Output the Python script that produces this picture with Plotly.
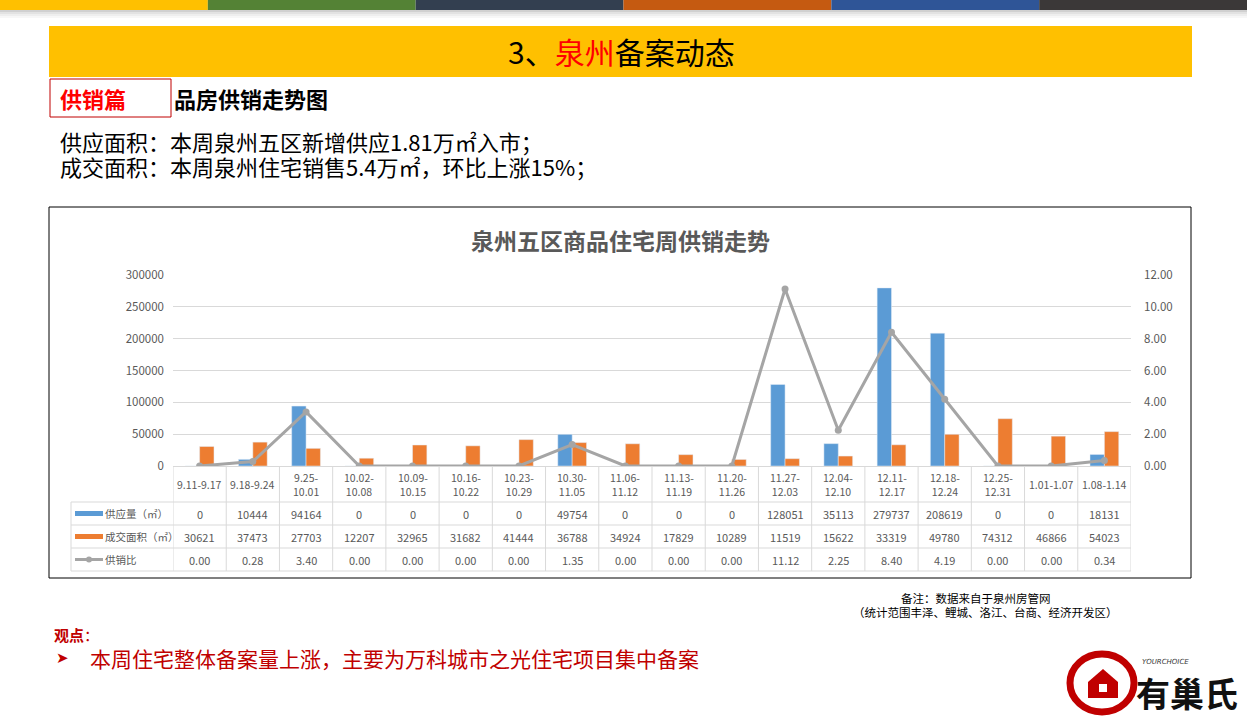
import plotly.graph_objects as go

# Weekly supply / sales data, Quanzhou five districts
weeks = ['9.11-9.17', '9.18-9.24', '9.25-10.01', '10.02-10.08', '10.09-10.15',
         '10.16-10.22', '10.23-10.29', '10.30-11.05', '11.06-11.12', '11.13-11.19',
         '11.20-11.26', '11.27-12.03', '12.04-12.10', '12.11-12.17', '12.18-12.24',
         '12.25-12.31', '1.01-1.07', '1.08-1.14']
week_labels = ['9.11-9.17', '9.18-9.24', '9.25-<br>10.01', '10.02-<br>10.08', '10.09-<br>10.15',
               '10.16-<br>10.22', '10.23-<br>10.29', '10.30-<br>11.05', '11.06-<br>11.12',
               '11.13-<br>11.19', '11.20-<br>11.26', '11.27-<br>12.03', '12.04-<br>12.10',
               '12.11-<br>12.17', '12.18-<br>12.24', '12.25-<br>12.31', '1.01-1.07', '1.08-1.14']
supply = [0, 10444, 94164, 0, 0, 0, 0, 49754, 0, 0, 0, 128051, 35113, 279737, 208619, 0, 0, 18131]
sales = [30621, 37473, 27703, 12207, 32965, 31682, 41444, 36788, 34924, 17829, 10289,
         11519, 15622, 33319, 49780, 74312, 46866, 54023]
ratio = [0.00, 0.28, 3.40, 0.00, 0.00, 0.00, 0.00, 1.35, 0.00, 0.00, 0.00,
         11.12, 2.25, 8.40, 4.19, 0.00, 0.00, 0.34]
series_names = ['供应量（㎡）', '成交面积（㎡）', '供销比']

W, H = 1247, 718
CJK = 'Noto Sans CJK SC'
BLUE, ORANGE, GRAY = '#5B9BD5', '#ED7D31', '#A5A5A5'
TXT = '#595959'
GRID = '#D9D9D9'


def fx(p):
    return p / W


def fy(p):
    return 1 - p / H


def label(x, y, text, size, color='#000000', family=CJK, xanchor='center', xref='paper'):
    # text placed by its pixel position on the page
    return dict(xref=xref, yref='paper', x=x if xref != 'paper' else fx(x), y=fy(y),
                xanchor=xanchor, yanchor='middle', showarrow=False, text=text,
                font=dict(family=family, size=size, color=color))


n = len(weeks)
X0, X1 = 173, 1131          # plot / table column span (px)
Y_TOP, Y_ZERO = 275, 466    # value axis span (px)

fig = go.Figure()
fig.add_trace(go.Bar(x=weeks, y=supply, name=series_names[0], marker_color=BLUE))
fig.add_trace(go.Bar(x=weeks, y=sales, name=series_names[1], marker_color=ORANGE))
fig.add_trace(go.Scatter(x=weeks, y=ratio, name=series_names[2], yaxis='y2',
                         mode='lines+markers', line=dict(color=GRAY, width=3),
                         marker=dict(color=GRAY, size=7)))

shapes = []
annotations = []

# top colour strip
strip = ['#FFC000', '#548235', '#333F50', '#C55A11', '#2F5597', '#3B3838']
seg = W / len(strip)
for i, c in enumerate(strip):
    shapes.append(dict(type='rect', xref='paper', yref='paper', x0=fx(i * seg), x1=fx((i + 1) * seg),
                       y0=fy(10), y1=fy(0), fillcolor=c, line_width=0, layer='below'))
for k, c in enumerate(['#D0D0D0', '#E2E2E2', '#EEEEEE', '#F7F7F7']):
    shapes.append(dict(type='rect', xref='paper', yref='paper', x0=0, x1=1,
                       y0=fy(12 + 2 * k), y1=fy(10 + 2 * k), fillcolor=c, line_width=0, layer='below'))

# yellow banner
shapes.append(dict(type='rect', xref='paper', yref='paper', x0=fx(49), x1=fx(1192),
                   y0=fy(77), y1=fy(26), fillcolor='#FFC000', line_width=0, layer='below'))
annotations.append(label(621, 51, "3、<span style='color:#FF0000'>泉州</span>备案动态", 30))

# section tag
shapes.append(dict(type='rect', xref='paper', yref='paper', x0=fx(50), x1=fx(171),
                   y0=fy(117), y1=fy(79), fillcolor='white', line=dict(color='#C00000', width=1)))
annotations.append(label(58, 98, '<b>供销篇</b>', 22, '#FF0000', xanchor='left'))
annotations.append(label(172, 98, '<b>品房供销走势图</b>', 22, xanchor='left'))

annotations.append(label(58, 141, '供应面积：本周泉州五区新增供应1.81万㎡入市；', 22, xanchor='left'))
annotations.append(label(58, 166, '成交面积：本周泉州住宅销售5.4万㎡，环比上涨15%；', 22, xanchor='left'))

# chart frame and title
shapes.append(dict(type='rect', xref='paper', yref='paper', x0=fx(49), x1=fx(1191),
                   y0=fy(578), y1=fy(207), line=dict(color='#000000', width=1)))
annotations.append(label(620, 240, '<b>泉州五区商品住宅周供销走势</b>', 23, TXT))

# data table under the axis
row_y = [466, 502, 525, 548, 571]
for y in row_y[1:]:
    shapes.append(dict(type='line', xref='paper', yref='paper', x0=fx(71), x1=fx(X1),
                       y0=fy(y), y1=fy(y), line=dict(color=GRID, width=1)))
shapes.append(dict(type='line', xref='paper', yref='paper', x0=fx(71), x1=fx(71),
                   y0=fy(502), y1=fy(571), line=dict(color=GRID, width=1)))
for i in range(n + 1):
    shapes.append(dict(type='line', xref='x', yref='paper', x0=i - 0.5, x1=i - 0.5,
                       y0=fy(466), y1=fy(571), line=dict(color=GRID, width=1)))

for i, lab in enumerate(week_labels):
    annotations.append(label(weeks[i], 484, lab, 10.5, TXT, xref='x'))
rows = [[str(v) for v in supply], [str(v) for v in sales], ['%.2f' % v for v in ratio]]
for r, vals in enumerate(rows):
    yc = (row_y[r + 1] + row_y[r + 2]) / 2
    for i, v in enumerate(vals):
        annotations.append(label(weeks[i], yc, v, 11, TXT, xref='x'))
    annotations.append(label(103, yc, series_names[r], 10.5, TXT, xanchor='left'))

# legend keys inside the table
for r, c in enumerate([BLUE, ORANGE]):
    yc = (row_y[r + 1] + row_y[r + 2]) / 2
    shapes.append(dict(type='rect', xref='paper', yref='paper', x0=fx(75), x1=fx(103),
                       y0=fy(yc + 2.5), y1=fy(yc - 2.5), fillcolor=c, line_width=0))
yc = (row_y[3] + row_y[4]) / 2
shapes.append(dict(type='line', xref='paper', yref='paper', x0=fx(75), x1=fx(103),
                   y0=fy(yc), y1=fy(yc), line=dict(color=GRAY, width=3)))
shapes.append(dict(type='circle', xref='paper', yref='paper', x0=fx(86), x1=fx(92),
                   y0=fy(yc + 3), y1=fy(yc - 3), fillcolor=GRAY, line_width=0))

# notes
annotations.append(label(976, 598, '备注：数据来自于泉州房管网', 11.5))
annotations.append(label(985, 612, '（统计范围丰泽、鲤城、洛江、台商、经济开发区）', 11.5))
annotations.append(label(52, 634, '<b>观点</b>：', 15, '#C00000', xanchor='left'))
annotations.append(label(54, 658, '➤', 15, '#C00000', family='DejaVu Sans', xanchor='left'))
annotations.append(label(88, 658, '本周住宅整体备案量上涨，主要为万科城市之光住宅项目集中备案', 21,
                         '#C00000', xanchor='left'))

# logo, bottom right
shapes.append(dict(type='circle', xref='paper', yref='paper', x0=fx(1070), x1=fx(1134),
                   y0=fy(712), y1=fy(654), line=dict(color='#C00000', width=7)))
shapes.append(dict(type='path', xref='paper', yref='paper',
                   path='M %f %f L %f %f L %f %f L %f %f L %f %f Z' % (
                       fx(1088), fy(698), fx(1088), fy(682), fx(1103), fy(669),
                       fx(1118), fy(682), fx(1118), fy(698)),
                   fillcolor='#C00000', line_width=0))
shapes.append(dict(type='rect', xref='paper', yref='paper', x0=fx(1099), x1=fx(1107),
                   y0=fy(692), y1=fy(684), fillcolor='white', line_width=0))
annotations.append(label(1140, 662, '<i>YOURCHOICE</i>', 7, '#333333', family='DejaVu Sans', xanchor='left'))
annotations.append(label(1134, 692, '<b>有巢氏</b>', 34, '#111111', xanchor='left'))

fig.update_layout(
    width=W, height=H,
    margin=dict(l=0, r=0, t=0, b=0),
    paper_bgcolor='white', plot_bgcolor='white',
    barmode='group', bargap=0.46, bargroupgap=0,
    showlegend=False,
    xaxis=dict(domain=[fx(X0), fx(X1)], range=[-0.5, n - 0.5], showticklabels=False,
               showgrid=False, showline=True, linecolor=GRID, ticks='', automargin=False),
    yaxis=dict(domain=[fy(Y_ZERO), fy(Y_TOP)], range=[0, 300000], dtick=50000,
               gridcolor=GRID, zeroline=False, tickformat='d', ticklabelstandoff=8,
               automargin=False, tickfont=dict(family=CJK, size=11.5, color=TXT)),
    yaxis2=dict(overlaying='y', side='right', range=[0, 12], dtick=2, tickformat='.2f',
                showgrid=False, zeroline=False, ticklabelstandoff=12, automargin=False,
                tickfont=dict(family=CJK, size=11.5, color=TXT)),
    shapes=shapes, annotations=annotations,
)

# drop the default page margin so the figure sits at the window's corner
fig.write_html('out.html', config={'displayModeBar': False},
               post_script="document.body.style.margin='0';")
